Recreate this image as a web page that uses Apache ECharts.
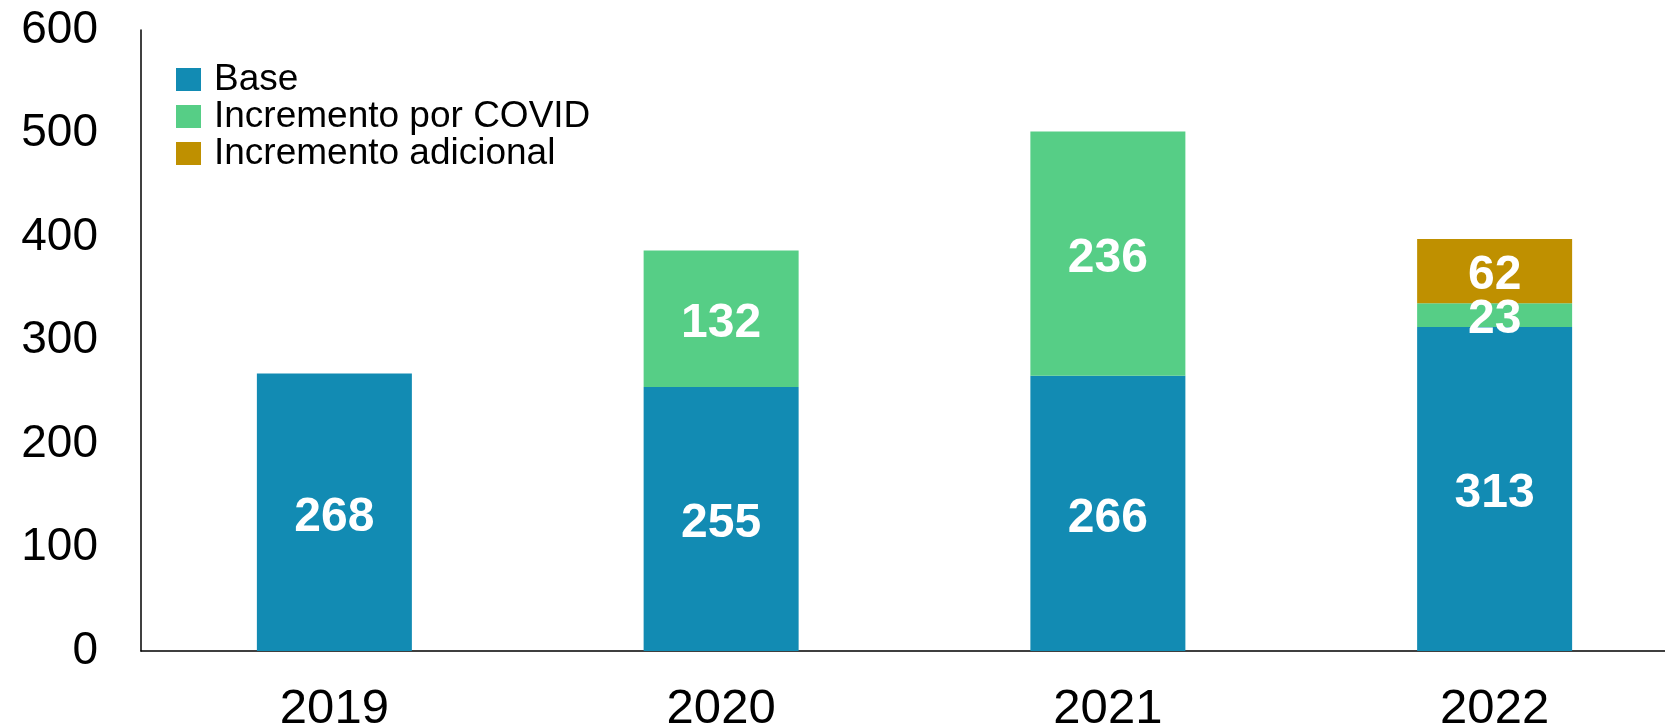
<!DOCTYPE html>
<html>
<head>
<meta charset="utf-8">
<script src="https://cdn.jsdelivr.net/npm/echarts@6/dist/echarts.min.js"></script>
<style>
  html, body { margin: 0; padding: 0; background: #fff; }
  #chart { width: 1665px; height: 727px; }
</style>
</head>
<body>
<div id="chart"></div>
<script>
// datos
const years = ['2019', '2020', '2021', '2022'];
const base = [268, 255, 266, 313];
const covid = [0, 132, 236, 23];
const adicional = [0, 0, 0, 62];
const yTicks = [0, 100, 200, 300, 400, 500, 600];

const font = '"Liberation Sans", Arial, sans-serif';

const myChart = echarts.init(document.getElementById('chart'));

const segLabel = {
  show: true,
  position: 'inside',
  offset: [0, 5],
  color: '#fff',
  fontFamily: font,
  fontWeight: 'bold',
  fontSize: 48,
  formatter: (p) => (p.value ? String(p.value) : '')
};

const option = {
  animation: false,
  color: ['#128BB3', '#56CE86', '#BF9000'],
  grid: {
    left: 141,
    right: -23,
    top: 30,
    bottom: 76,
    containLabel: false,
    outerBoundsMode: 'none'
  },
  legend: {
    orient: 'vertical',
    left: 171,
    top: 56,
    itemWidth: 25,
    itemHeight: 23,
    itemGap: 0,
    icon: 'rect',
    data: ['Base', 'Incremento por COVID', 'Incremento adicional'],
    textStyle: {
      fontFamily: font,
      fontSize: 37,
      lineHeight: 37,
      color: '#000',
      padding: [0, 0, 0, 8]
    }
  },
  xAxis: {
    type: 'category',
    data: years,
    axisLine: { show: true, lineStyle: { color: '#000', width: 1.5 } },
    axisTick: { show: false },
    axisLabel: {
      margin: 34,
      fontFamily: font,
      fontSize: 49,
      color: '#000'
    }
  },
  yAxis: {
    type: 'value',
    min: yTicks[0],
    max: yTicks[yTicks.length - 1],
    interval: 100,
    axisLine: { show: true, lineStyle: { color: '#000', width: 1.5 } },
    axisTick: { show: false },
    splitLine: { show: false },
    axisLabel: {
      margin: 43,
      fontFamily: font,
      fontSize: 46,
      color: '#000'
    }
  },
  series: [
    {
      name: 'Base',
      type: 'bar',
      stack: 'total',
      barWidth: 155,
      label: segLabel,
      data: base
    },
    {
      name: 'Incremento por COVID',
      type: 'bar',
      stack: 'total',
      barWidth: 155,
      label: segLabel,
      data: covid
    },
    {
      name: 'Incremento adicional',
      type: 'bar',
      stack: 'total',
      barWidth: 155,
      label: segLabel,
      data: adicional
    }
  ]
};

myChart.setOption(option);
</script>
</body>
</html>
